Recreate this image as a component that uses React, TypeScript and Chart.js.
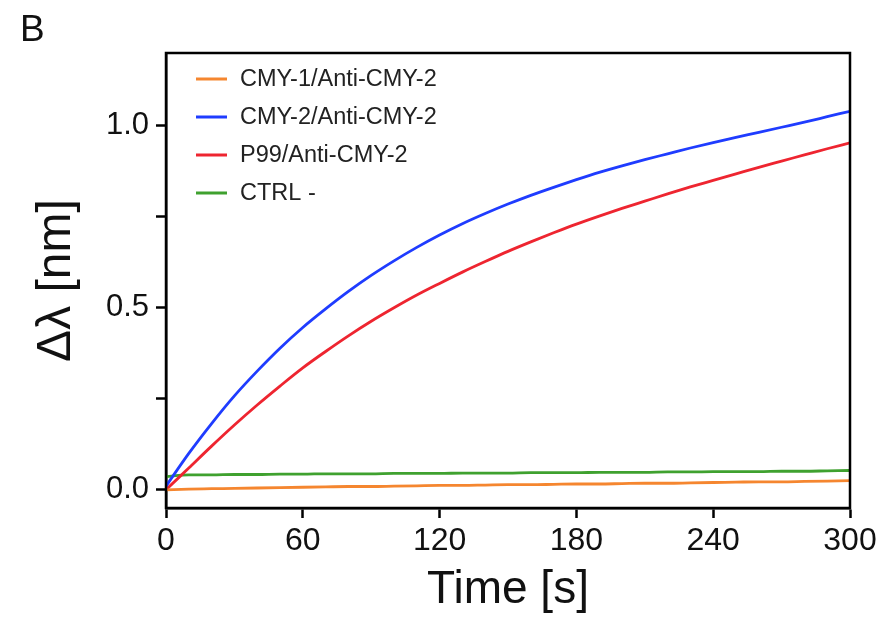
import React, { useEffect, useRef } from 'react';
import { Chart, registerables } from 'chart.js';

Chart.register(...registerables);

// ---- data ----
const timeS = [0, 10, 20, 30, 40, 50, 60, 70, 80, 90, 100, 110, 120, 130, 140, 150, 160, 170, 180, 190, 200, 210, 220, 230, 240, 250, 260, 270, 280, 290, 300];

const cmy1Anti = [0.0, 0.002, 0.003, 0.004, 0.005, 0.006, 0.007, 0.008, 0.009, 0.009, 0.01, 0.011, 0.012, 0.012, 0.013, 0.014, 0.014, 0.015, 0.016, 0.016, 0.017, 0.018, 0.018, 0.019, 0.02, 0.021, 0.022, 0.022, 0.023, 0.024, 0.025];
const cmy2Anti = [0.01, 0.1, 0.182, 0.258, 0.326, 0.389, 0.446, 0.497, 0.545, 0.589, 0.629, 0.666, 0.7, 0.731, 0.759, 0.785, 0.809, 0.831, 0.852, 0.872, 0.89, 0.907, 0.923, 0.939, 0.954, 0.968, 0.982, 0.996, 1.01, 1.025, 1.04];
const p99Anti = [0.0, 0.06, 0.12, 0.178, 0.233, 0.285, 0.335, 0.38, 0.423, 0.463, 0.5, 0.535, 0.567, 0.598, 0.627, 0.655, 0.681, 0.706, 0.73, 0.752, 0.773, 0.793, 0.813, 0.832, 0.85, 0.868, 0.886, 0.903, 0.92, 0.937, 0.953];
const ctrlNeg = [0.036, 0.041, 0.041, 0.042, 0.042, 0.043, 0.043, 0.044, 0.044, 0.044, 0.045, 0.045, 0.045, 0.046, 0.046, 0.046, 0.047, 0.047, 0.047, 0.048, 0.048, 0.048, 0.049, 0.049, 0.05, 0.05, 0.05, 0.051, 0.051, 0.052, 0.053];

const seriesLabels = ['CMY-1/Anti-CMY-2', 'CMY-2/Anti-CMY-2', 'P99/Anti-CMY-2', 'CTRL -'];
const seriesColors = ['#f5862f', '#1f3cff', '#ee2530', '#3fa12f'];

const xTickValues = [0, 60, 120, 180, 240, 300];
const yTickValues = [0, 0.25, 0.5, 0.75, 1.0];
const yTickLabels = ['0.0', '', '0.5', '', '1.0'];

const panelLetter = 'B';
const xTitle = 'Time [s]';
const yTitle = 'Δλ [nm]';

const FONT = "'Liberation Sans', Arial, Helvetica, sans-serif";

const toPoints = (vals: number[]) => vals.map((v, i) => ({ x: timeS[i], y: v }));

const framePlugin = {
  id: 'frame',
  afterDraw(chart: any) {
    const { ctx, chartArea } = chart;
    ctx.save();
    ctx.strokeStyle = '#000';
    ctx.lineWidth = 2.5;
    ctx.strokeRect(chartArea.left, chartArea.top, chartArea.right - chartArea.left, chartArea.bottom - chartArea.top);
    ctx.fillStyle = '#111';
    ctx.font = `37px ${FONT}`;
    ctx.textAlign = 'left';
    ctx.textBaseline = 'alphabetic';
    ctx.fillText(panelLetter, 20, 41);
    ctx.restore();
  },
};

const legendPlugin = {
  id: 'boxLegend',
  afterDatasetsDraw(chart: any) {
    const { ctx, chartArea } = chart;
    ctx.save();
    ctx.font = `23.5px ${FONT}`;
    ctx.textBaseline = 'middle';
    ctx.textAlign = 'left';
    chart.data.datasets.forEach((ds: any, i: number) => {
      const y = chartArea.top + 26 + i * 38;
      ctx.strokeStyle = ds.borderColor;
      ctx.lineWidth = 3;
      ctx.beginPath();
      ctx.moveTo(chartArea.left + 30, y);
      ctx.lineTo(chartArea.left + 61, y);
      ctx.stroke();
      ctx.fillStyle = '#222';
      ctx.fillText(ds.label, chartArea.left + 74, y + 1);
    });
    ctx.restore();
  },
};

export default function App() {
  const ref = useRef<HTMLCanvasElement | null>(null);

  useEffect(() => {
    if (!ref.current) return;
    const datasets = [cmy1Anti, cmy2Anti, p99Anti, ctrlNeg].map((vals, i) => ({
      label: seriesLabels[i],
      data: toPoints(vals),
      borderColor: seriesColors[i],
      backgroundColor: seriesColors[i],
      borderWidth: 2.8,
      pointRadius: 0,
      cubicInterpolationMode: 'monotone' as const,
      fill: false,
    }));

    const chart = new Chart(ref.current, {
      type: 'line',
      data: { datasets },
      options: {
        responsive: false,
        animation: false,
        devicePixelRatio: 1,
        layout: { padding: { left: 0, top: 53, right: 38, bottom: 0 } },
        plugins: {
          legend: { display: false },
          tooltip: { enabled: false },
        },
        scales: {
          x: {
            type: 'linear',
            min: 0,
            max: 300,
            afterFit: (s: any) => { s.height = 111; },
            afterBuildTicks: (s: any) => { s.ticks = xTickValues.map((v) => ({ value: v })); },
            border: { display: true, color: '#000', width: 2.5 },
            grid: { drawOnChartArea: false, drawTicks: true, tickLength: 10, tickWidth: 2.5, tickColor: '#000' },
            ticks: {
              color: '#111',
              font: { family: FONT, size: 32 },
              padding: 4,
              maxRotation: 0,
              callback: (v: any) => String(v),
            },
            title: {
              display: true,
              text: xTitle,
              color: '#111',
              font: { family: FONT, size: 46 },
              padding: { top: 0, bottom: 1 },
            },
          },
          y: {
            type: 'linear',
            min: -0.05,
            max: 1.2,
            afterFit: (s: any) => { s.width = 166; },
            afterBuildTicks: (s: any) => { s.ticks = yTickValues.map((v) => ({ value: v })); },
            border: { display: true, color: '#000', width: 2.5 },
            grid: { drawOnChartArea: false, drawTicks: true, tickLength: 10, tickWidth: 2.5, tickColor: '#000' },
            ticks: {
              color: '#111',
              font: { family: FONT, size: 31 },
              padding: 7,
              callback: (v: any) => {
                const idx = yTickValues.indexOf(Number(v));
                return idx >= 0 ? yTickLabels[idx] : '';
              },
            },
            title: {
              display: true,
              text: yTitle,
              color: '#111',
              font: { family: FONT, size: 48 },
              padding: { top: 28, bottom: 0 },
            },
          },
        },
      },
      plugins: [legendPlugin, framePlugin],
    });
    return () => chart.destroy();
  }, []);

  return (
    <div style={{ position: 'absolute', left: 0, top: 0, width: 888, height: 619, background: '#fff' }}>
      <canvas ref={ref} width={888} height={619} style={{ display: 'block' }} />
    </div>
  );
}
